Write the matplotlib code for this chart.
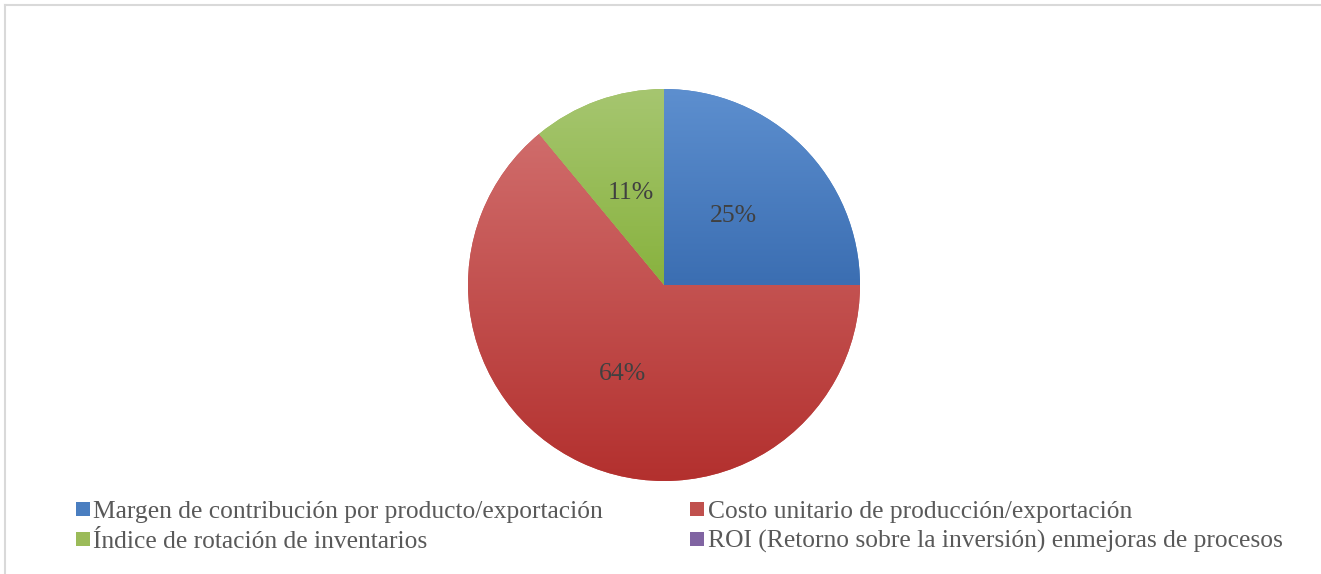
import numpy as np
import matplotlib
matplotlib.use("Agg")
import matplotlib.pyplot as plt
from matplotlib.colors import LinearSegmentedColormap
from matplotlib.lines import Line2D

# data
categories = ["Margen de contribución por producto/exportación",
              "Costo unitario de producción/exportación",
              "Índice de rotación de inventarios",
              "ROI (Retorno sobre la inversión) enmejoras de procesos"]
values = [25, 64, 11, 0]

# (top colour, bottom colour, legend colour) for each slice
grads = [("#5d8fcf", "#3b6eb2", "#4a7ec0"),
         ("#d06c6b", "#b3302e", "#c0504d"),
         ("#a6c670", "#88b23e", "#9bbb59"),
         ("#9179b0", "#6a4f8e", "#8064a2")]

plt.rcParams['font.family'] = ['Liberation Serif', 'DejaVu Serif']

W, H = 1321, 574
fig = plt.figure(figsize=(W / 100, H / 100), dpi=100)

# pie centre (664, 285) px, radius 196 px
cx, cy, r = 664, 285, 196
ax = fig.add_axes([(cx - r) / W, 1 - (cy + r) / H, 2 * r / W, 2 * r / H])

wedges, texts, autotexts = ax.pie(
    values, startangle=90, counterclock=False,
    colors=[g[2] for g in grads],
    autopct=lambda p: f"{p:.0f}%" if p > 0 else "",
    pctdistance=0.5, wedgeprops=dict(linewidth=0),
    textprops=dict(color="#404040", fontsize=18.5))

# gradient fill clipped to each wedge
grad = np.linspace(0, 1, 256).reshape(-1, 1)
for w, g in zip(wedges, grads):
    ext = w.get_path().get_extents()
    if ext.width <= 0 or ext.height <= 0:
        continue
    cmap = LinearSegmentedColormap.from_list("", [g[1], g[0]])
    im = ax.imshow(grad, extent=[ext.x0, ext.x1, ext.y0, ext.y1], origin="lower",
                   cmap=cmap, aspect="auto", zorder=1.5, interpolation="bilinear")
    im.set_clip_path(w)
for t in autotexts:
    t.set_zorder(5)

ax.set_xlim(-1, 1)
ax.set_ylim(-1, 1)
ax.set_aspect("equal")
ax.axis("off")

# legend, filled row-wise like the original
handles = [Line2D([], [], marker="s", linestyle="none", markersize=9.5,
                  markerfacecolor=g[2], markeredgewidth=0) for g in grads]
order = [0, 2, 1, 3]
fig.legend([handles[i] for i in order], [categories[i] for i in order],
           ncol=2, loc="upper left", bbox_to_anchor=(76 / W, 1 - 500 / H),
           frameon=False, fontsize=18.4, labelcolor="#595959",
           handlelength=0.52, handletextpad=0.14, labelspacing=0.28,
           columnspacing=3.45, borderpad=0, borderaxespad=0)

# chart area border (top and left visible)
fig.add_artist(Line2D([5 / W, 1], [1 - 5 / H, 1 - 5 / H], color="#d9d9d9", lw=1.5))
fig.add_artist(Line2D([5 / W, 5 / W], [0, 1 - 5 / H], color="#d9d9d9", lw=1.5))

fig.savefig("out.png", dpi=100, facecolor="white")
